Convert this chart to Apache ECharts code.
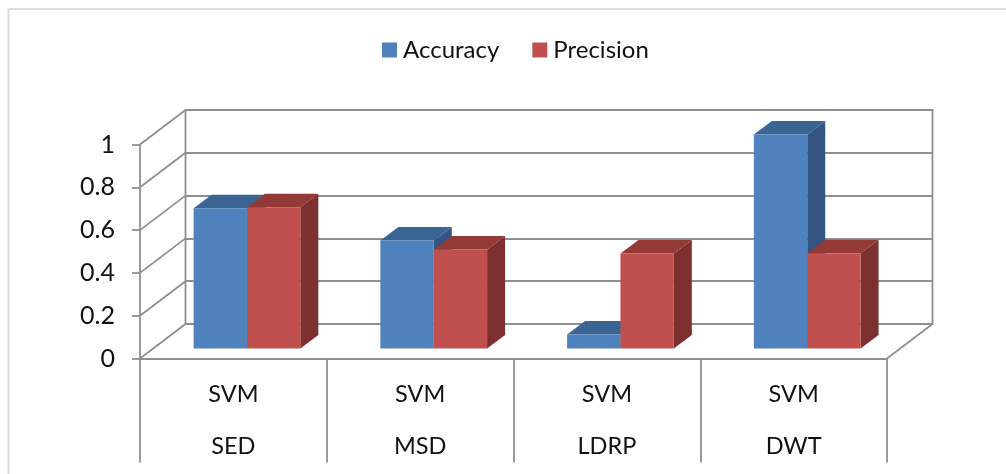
<!DOCTYPE html>
<html>
<head>
<meta charset="utf-8">
<script src="https://cdn.jsdelivr.net/npm/echarts@6/dist/echarts.min.js"></script>
<style>
  html, body { margin: 0; padding: 0; background: #fff; }
  #main { width: 1006px; height: 474px; }
</style>
</head>
<body>
<div id="main"></div>
<script>
var methods = ['SVM', 'SVM', 'SVM', 'SVM'];
var features = ['SED', 'MSD', 'LDRP', 'DWT'];
var accuracy = [0.655, 0.505, 0.065, 1];
var precision = [0.66, 0.463, 0.444, 0.445];
var ticks = [0, 0.2, 0.4, 0.6, 0.8, 1];

var fontName = 'Lato';
var lineGray = '#8f8f8f';
var lineW = 1.8;

// depth of the floor and how far in the bars stand, in px
var wallDx = 45.5, wallDy = -34.5;
var barInDx = 13.6, barInDy = -10;
var barDx = 18, barDy = -13.5;
var gapWidth = 1.5;

function poly(points, color) {
  return {
    type: 'polygon',
    shape: { points: points },
    style: { fill: color }
  };
}

// one box of the 3d column, side: -1 left of the category center, 0 right of it
function barItem(side, topColor, sideColor) {
  return function (params, api) {
    var base = api.coord([api.value(0), 0]);
    var top = api.coord([api.value(0), api.value(1)]);
    var w = api.size([1, 0])[0] / (2 + gapWidth);
    var x0 = base[0] + side * w + barInDx;
    var x1 = x0 + w;
    var y0 = base[1] + barInDy;
    var y1 = top[1] + barInDy;
    return {
      type: 'group',
      children: [
        poly([[x1, y0], [x1 + barDx, y0 + barDy], [x1 + barDx, y1 + barDy], [x1, y1]], sideColor),
        poly([[x0, y1], [x1, y1], [x1 + barDx, y1 + barDy], [x0 + barDx, y1 + barDy]], topColor),
        poly([[x0, y0], [x1, y0], [x1, y1], [x0, y1]], api.visual('color'))
      ]
    };
  };
}

// slanted lines joining the front axis and the back wall
// row is [category index, value, -1 or 1 for the edge of that band]
function sideLine(params, api) {
  var p = api.coord([api.value(0), api.value(1)]);
  var x = p[0] + api.value(2) * api.size([1, 0])[0] / 2;
  return {
    type: 'line',
    shape: { x1: x, y1: p[1], x2: x + wallDx, y2: p[1] + wallDy },
    style: { stroke: lineGray, lineWidth: lineW }
  };
}

var sideData = ticks.map(function (t) { return [0, t, -1]; });
sideData.push([features.length - 1, 0, 1]);

var chart = echarts.init(document.getElementById('main'));

chart.setOption({
  animation: false,
  textStyle: { fontFamily: fontName },
  graphic: [
    { type: 'line', shape: { x1: 8.5, y1: 9, x2: 1006, y2: 9 }, style: { stroke: '#dcdcdc', lineWidth: 2 }, silent: true },
    { type: 'line', shape: { x1: 8.5, y1: 9, x2: 8.5, y2: 474 }, style: { stroke: '#dcdcdc', lineWidth: 2 }, silent: true }
  ],
  legend: {
    data: ['Accuracy', 'Precision'],
    left: 377,
    top: 33,
    icon: 'rect',
    itemWidth: 15,
    itemHeight: 15,
    itemGap: 33,
    textStyle: { fontFamily: fontName, fontSize: 24, color: '#111', padding: [0, 0, 0, 1] }
  },
  grid: [
    { left: 140, top: 144.5, width: 747, height: 214 },
    { left: 185.5, top: 110, width: 747, height: 214, show: true, borderColor: lineGray, borderWidth: lineW, backgroundColor: 'transparent' }
  ],
  xAxis: [
    {
      type: 'category',
      gridIndex: 0,
      data: features,
      axisLine: { lineStyle: { color: lineGray, width: lineW } },
      axisTick: { show: true, length: 104, alignWithLabel: false, lineStyle: { color: lineGray, width: lineW } },
      axisLabel: {
        margin: 10,
        fontSize: 23.5,
        fontFamily: fontName,
        color: '#111',
        lineHeight: 52,
        formatter: function (value, index) { return methods[index] + '\n' + value; }
      }
    },
    {
      type: 'category',
      gridIndex: 1,
      data: features,
      axisLine: { show: false },
      axisTick: { show: false },
      axisLabel: { show: false }
    }
  ],
  yAxis: [
    {
      type: 'value',
      gridIndex: 0,
      min: 0,
      max: 1,
      interval: 0.2,
      axisLine: { show: true, lineStyle: { color: lineGray, width: lineW } },
      axisTick: { show: true, length: 8, lineStyle: { color: lineGray, width: lineW } },
      axisLabel: { margin: 25, fontSize: 25, fontFamily: fontName, color: '#111', padding: [3, 0, 0, 0] },
      splitLine: { show: false }
    },
    {
      type: 'value',
      gridIndex: 1,
      min: 0,
      max: 1,
      interval: 0.2,
      axisLine: { show: false },
      axisTick: { show: false },
      axisLabel: { show: false },
      splitLine: { show: true, lineStyle: { color: lineGray, width: lineW } }
    }
  ],
  series: [
    {
      type: 'custom',
      name: 'walls',
      xAxisIndex: 0,
      yAxisIndex: 0,
      silent: true,
      z: 1,
      clip: false,
      renderItem: sideLine,
      data: sideData
    },
    {
      type: 'custom',
      name: 'Accuracy',
      xAxisIndex: 0,
      yAxisIndex: 0,
      z: 3,
      clip: false,
      itemStyle: { color: '#4F81BD' },
      renderItem: barItem(-1, '#3A6494', '#325581'),
      data: accuracy.map(function (v, i) { return [i, v]; })
    },
    {
      type: 'custom',
      name: 'Precision',
      xAxisIndex: 0,
      yAxisIndex: 0,
      z: 3,
      clip: false,
      itemStyle: { color: '#C0504D' },
      renderItem: barItem(0, '#933A38', '#7C3130'),
      data: precision.map(function (v, i) { return [i, v]; })
    }
  ]
});
</script>
</body>
</html>
